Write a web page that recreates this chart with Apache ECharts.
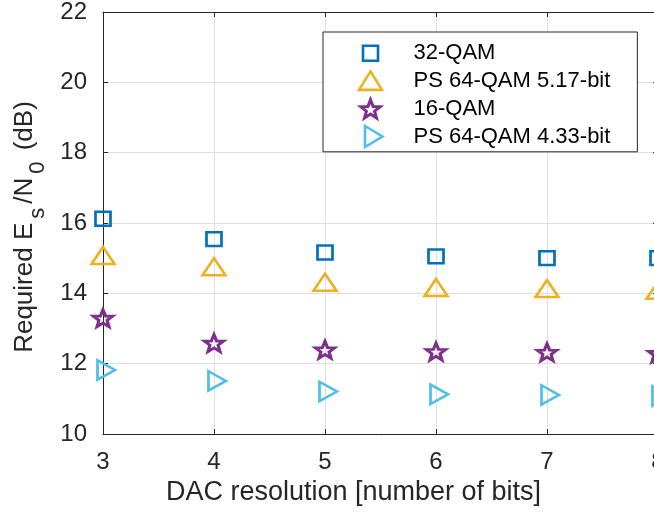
<!DOCTYPE html>
<html>
<head>
<meta charset="utf-8">
<script src="https://cdn.jsdelivr.net/npm/echarts@6/dist/echarts.min.js"></script>
<style>
html,body{margin:0;padding:0;background:#fff;}
#chart{width:654px;height:514px;}
</style>
</head>
<body>
<div id="chart"></div>
<script>
// ---- data ----
const xBits = [3, 4, 5, 6, 7, 8];
const qam32 = [16.12, 15.54, 15.16, 15.05, 15.00, 15.00];
const ps64_517 = [15.07, 14.75, 14.31, 14.16, 14.13, 14.08];
const qam16 = [13.30, 12.59, 12.40, 12.35, 12.33, 12.30];
const ps64_433 = [11.82, 11.51, 11.21, 11.13, 11.11, 11.08];
const seriesNames = ['32-QAM', 'PS 64-QAM 5.17-bit', '16-QAM', 'PS 64-QAM 4.33-bit'];
const yTicks = [10, 12, 14, 16, 18, 20, 22];
const xLabelText = 'DAC resolution [number of bits]';

// ---- styling ----
const FONT = 'Liberation Sans, Arial, Helvetica, sans-serif';
const AX = '#262626';
const GRID = '#dfdfdf';
const colors = ['#0072BD', '#EDB120', '#7E2F8E', '#4DBEEE'];
// symbols drawn inside a common 26x24 frame (centre 13,12 = data point)
const FRAME = 'M0,0M26,24';
const symbols = [
  'path://' + FRAME + 'M5.5,4.5L20.5,4.5L20.5,19.5L5.5,19.5Z',
  'path://' + FRAME + 'M13,2.5L24.5,21L1.5,21Z',
  'path://' + FRAME + 'M13,3L15.6,9.9L22.6,10.1L17.1,14.5L19.0,21.4L13,17.4L7.0,21.4L8.9,14.5L3.4,10.1L10.4,9.9Z',
  'path://' + FRAME + 'M7.5,1.5L25,12L7.5,22.5Z'
];
const borderWidths = [2.6, 2.6, 3, 2.6];
const values = [qam32, ps64_517, qam16, ps64_433];

const series = values.map((vals, i) => ({
  name: seriesNames[i],
  type: 'scatter',
  data: xBits.map((x, k) => [x, vals[k]]),
  symbol: symbols[i],
  symbolSize: [26, 24],
  symbolKeepAspect: true,
  clip: false,
  itemStyle: { color: 'rgba(255,255,255,0)', borderColor: colors[i], borderWidth: borderWidths[i], opacity: 1 },
  emphasis: { disabled: true },
  z: 3
}));

const chart = echarts.init(document.getElementById('chart'), null, { renderer: 'canvas' });
chart.setOption({
  animation: false,
  backgroundColor: '#ffffff',
  grid: { left: 103, top: 12, right: -4, bottom: 80, containLabel: false, outerBoundsMode: 'none' },
  legend: {
    orient: 'vertical',
    left: 323, top: 32,
    padding: [8, 27, 2, 33],
    itemWidth: 26, itemHeight: 24, itemGap: 1,
    backgroundColor: '#ffffff',
    borderColor: AX, borderWidth: 1,
    selectedMode: false,
    itemStyle: { borderWidth: 2.6 },
    data: seriesNames.map((n, i) => ({ name: n, itemStyle: { borderWidth: borderWidths[i] } })),
    textStyle: { fontFamily: FONT, fontSize: 22, lineHeight: 24, color: '#000', padding: [0, 0, 0, 25] }
  },
  xAxis: [{
    type: 'value', min: 3, max: 8, interval: 1,
    name: xLabelText, nameLocation: 'middle', nameGap: 44,
    nameTextStyle: { fontFamily: FONT, fontSize: 27, color: AX, padding: [0, 54, 0, 0] },
    axisLine: { show: true, onZero: false, lineStyle: { color: AX, width: 1 } },
    axisTick: { show: true, inside: true, length: 5, lineStyle: { color: AX } },
    axisLabel: { fontFamily: FONT, fontSize: 24, color: AX, margin: 16, showMaxLabel: true },
    splitLine: { show: true, lineStyle: { color: GRID, width: 1 } }
  }, {
    type: 'value', min: 3, max: 8, interval: 1, position: 'top',
    axisLine: { show: true, onZero: false, lineStyle: { color: AX, width: 1 } },
    axisTick: { show: true, inside: true, length: 5, lineStyle: { color: AX } },
    axisLabel: { show: false },
    splitLine: { show: false }
  }],
  yAxis: [{
    type: 'value', min: yTicks[0], max: yTicks[yTicks.length - 1], interval: 2,
    name: '{a|Required E}{sub|s}{a|/N}{sub|0}{a| (dB)}',
    nameLocation: 'middle', nameGap: 54,
    nameTextStyle: {
      fontFamily: FONT, color: AX, padding: [0, 8, 0, 0],
      rich: {
        a: { fontFamily: FONT, fontSize: 26, color: AX },
        sub: { fontFamily: FONT, fontSize: 22, color: AX, padding: [26, 4, 0, 4] }
      }
    },
    axisLine: { show: true, onZero: false, lineStyle: { color: AX, width: 1 } },
    axisTick: { show: true, inside: true, length: 5, lineStyle: { color: AX } },
    axisLabel: { fontFamily: FONT, fontSize: 24, color: AX, margin: 16 },
    splitLine: { show: true, lineStyle: { color: GRID, width: 1 } }
  }, {
    type: 'value', min: yTicks[0], max: yTicks[yTicks.length - 1], interval: 2, position: 'right',
    axisLine: { show: true, onZero: false, lineStyle: { color: AX, width: 1 } },
    axisTick: { show: true, inside: true, length: 5, lineStyle: { color: AX } },
    axisLabel: { show: false },
    splitLine: { show: false }
  }],
  series: series
});
</script>
</body>
</html>
